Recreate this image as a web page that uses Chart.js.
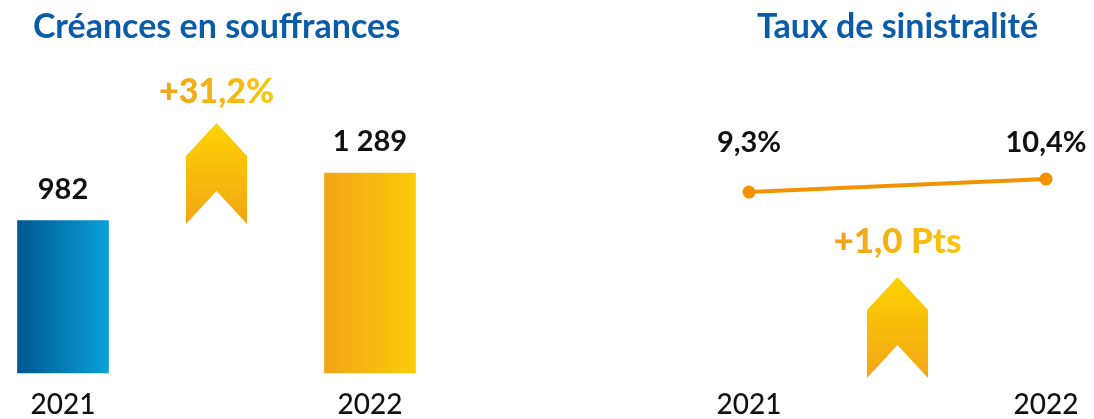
<!DOCTYPE html>
<html>
<head>
<meta charset="utf-8">
<script src="https://cdn.jsdelivr.net/npm/chart.js@4"></script>
<style>
  html, body { margin: 0; padding: 0; background: #fff; }
  body { width: 1094px; height: 419px; position: relative; overflow: hidden; }
  #left { position: absolute; left: 0; top: 0; }
  #right { position: absolute; left: 600px; top: 0; }
</style>
</head>
<body>
<canvas id="left" width="450" height="419"></canvas>
<canvas id="right" width="494" height="419"></canvas>
<script>
var years = ['2021', '2022'];
var creances = [982, 1289];
var taux = [9.3, 10.4];
var titleLeft = 'Créances en souffrances';
var titleRight = 'Taux de sinistralité';
var changeLeft = '+31,2%';
var changeRight = '+1,0 Pts';

var FONT = 'Lato, "Open Sans", sans-serif';
var BLUE_TITLE = '#0a5ca8';

function fmtInt(v) {
    return String(v).replace(/\B(?=(\d{3})+(?!\d))/g, ' ');
}
function fmtPct(v) {
    return v.toFixed(1).replace('.', ',') + '%';
}

// chevron arrow, top tip at y0
function drawArrow(ctx, cx, y0) {
    var w = 61, sh = 33, h = 101, notch = 68;
    var g = ctx.createLinearGradient(0, y0, 0, y0 + h);
    g.addColorStop(0, '#fdd300');
    g.addColorStop(1, '#f2a517');
    ctx.save();
    ctx.fillStyle = g;
    ctx.beginPath();
    ctx.moveTo(cx, y0);
    ctx.lineTo(cx + w / 2, y0 + sh);
    ctx.lineTo(cx + w / 2, y0 + h);
    ctx.lineTo(cx, y0 + notch);
    ctx.lineTo(cx - w / 2, y0 + h);
    ctx.lineTo(cx - w / 2, y0 + sh);
    ctx.closePath();
    ctx.fill();
    ctx.restore();
}

function gradText(ctx, text, cx, cy, size) {
    ctx.save();
    ctx.font = '900 ' + size + 'px ' + FONT;
    ctx.textAlign = 'center';
    ctx.textBaseline = 'middle';
    var w = ctx.measureText(text).width;
    var g = ctx.createLinearGradient(cx - w / 2, 0, cx + w / 2, 0);
    g.addColorStop(0, '#f0a21d');
    g.addColorStop(1, '#f9c70c');
    ctx.fillStyle = g;
    ctx.fillText(text, cx, cy);
    ctx.restore();
}

function makeDecor(opts) {
    return {
        id: 'decor',
        afterDatasetsDraw: function(chart) {
            var ctx = chart.ctx;
            var xs = chart.scales.x;
            var ys = chart.scales.y;
            var x0 = xs.getPixelForValue(0), x1 = xs.getPixelForValue(1);
            var mid = (x0 + x1) / 2;
            ctx.save();
            ctx.textAlign = 'center';
            ctx.textBaseline = 'middle';
            // title
            ctx.fillStyle = BLUE_TITLE;
            ctx.font = 'bold 34px ' + FONT;
            ctx.fillText(opts.title, mid, 27);
            // values
            ctx.fillStyle = '#111';
            ctx.font = 'bold 29px ' + FONT;
            opts.values.forEach(function(v, i) {
                var x = xs.getPixelForValue(i);
                var y = opts.labelY ? opts.labelY : ys.getPixelForValue(v) - 31;
                ctx.fillText(opts.fmt(v), x, y);
            });
            // years
            ctx.font = '500 28px ' + FONT;
            years.forEach(function(yr, i) {
                ctx.fillText(yr, xs.getPixelForValue(i), 405);
            });
            ctx.restore();
            gradText(ctx, opts.change, mid, opts.changeY, opts.changeSize);
            drawArrow(ctx, mid, opts.arrowY);
        }
    };
}

new Chart(document.getElementById('left'), {
    type: 'bar',
    data: {
        labels: years,
        datasets: [{
            data: creances,
            barThickness: 91,
            clip: false,
            backgroundColor: function(c) {
                var chart = c.chart;
                if (!chart.chartArea) return '#0070b0';
                var x = chart.scales.x.getPixelForValue(c.dataIndex);
                var g = chart.ctx.createLinearGradient(x - 45, 0, x + 45, 0);
                if (c.dataIndex === 0) {
                    g.addColorStop(0, '#005893');
                    g.addColorStop(1, '#0b9fd7');
                } else {
                    g.addColorStop(0, '#f3a419');
                    g.addColorStop(1, '#fbcb08');
                }
                return g;
            }
        }]
    },
    options: {
        responsive: false,
        animation: false,
        layout: { padding: { left: 63, right: 80, top: 155.8, bottom: 46 } },
        plugins: { legend: { display: false }, tooltip: { enabled: false } },
        scales: {
            x: { display: false, offset: false },
            y: { display: false, min: 0, max: 1400 }
        }
    },
    plugins: [makeDecor({
        title: titleLeft, values: creances, fmt: fmtInt,
        change: changeLeft, changeY: 92, changeSize: 34, arrowY: 123
    })]
});

new Chart(document.getElementById('right'), {
    type: 'line',
    data: {
        labels: years,
        datasets: [{
            data: taux,
            borderColor: '#f39200',
            borderWidth: 4,
            pointRadius: 6.5,
            pointBackgroundColor: '#f39200',
            pointBorderWidth: 0,
            clip: false
        }]
    },
    options: {
        responsive: false,
        animation: false,
        layout: { padding: { left: 149, right: 48, top: 160.2, bottom: 117 } },
        plugins: { legend: { display: false }, tooltip: { enabled: false } },
        scales: {
            x: { display: false, offset: false },
            y: { display: false, min: 0, max: 12 }
        }
    },
    plugins: [makeDecor({
        title: titleRight, values: taux, fmt: fmtPct, labelY: 143,
        change: changeRight, changeY: 242, changeSize: 35, arrowY: 277
    })]
});
</script>
</body>
</html>
